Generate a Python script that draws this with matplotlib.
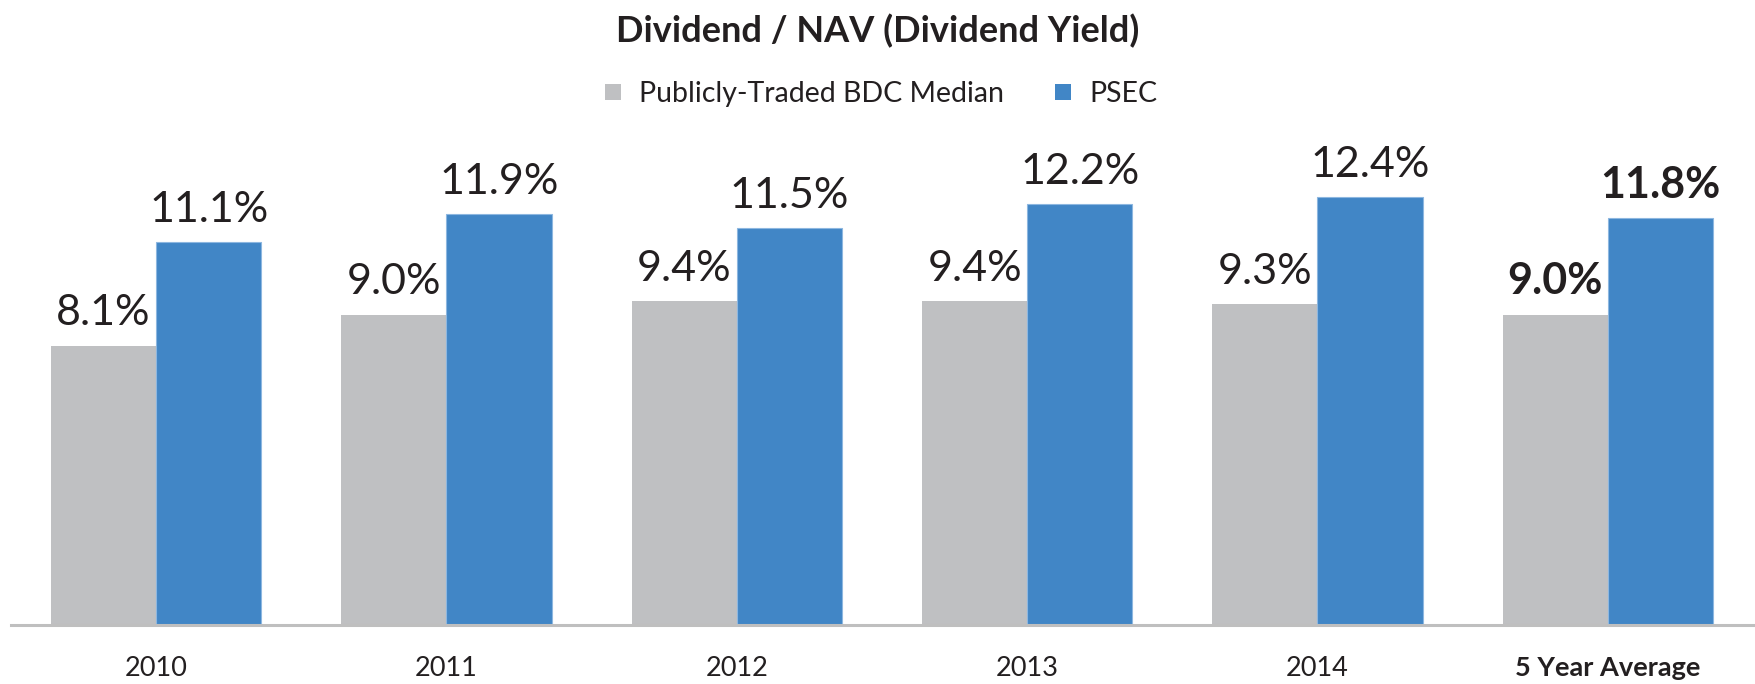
import matplotlib
matplotlib.use("Agg")
import matplotlib.pyplot as plt
from matplotlib.lines import Line2D

categories = ["2010", "2011", "2012", "2013", "2014", "5 Year Average"]
bdc_median = [8.1, 9.0, 9.4, 9.4, 9.3, 9.0]
psec = [11.1, 11.9, 11.5, 12.2, 12.4, 11.8]
series_names = ["Publicly-Traded BDC Median", "PSEC"]
title = "Dividend / NAV (Dividend Yield)"

gray = "#BFC0C2"
blue = "#4186C6"
txt = "#231F20"

plt.rcParams['font.family'] = ['Lato', 'DejaVu Sans']

fig = plt.figure(figsize=(17.56, 6.84), dpi=100)
ax = fig.add_axes([11/1756, 1 - 625/684, (1753 - 11)/1756, (625 - 142)/684])

w = 0.362
xs = list(range(len(categories)))
ax.bar([x - w/2 for x in xs], bdc_median, width=w, color=gray, linewidth=0)
ax.bar([x + w/2 for x in xs], psec, width=w, color=blue, edgecolor="#8DB7E0", linewidth=0.8)

ax.set_xlim(-0.5, len(categories) - 0.5)
ax.set_ylim(0, 14)
for s in ["top", "right", "left"]:
    ax.spines[s].set_visible(False)
ax.spines["bottom"].set_color("#BFBFBF")
ax.spines["bottom"].set_linewidth(2.2)
ax.set_yticks([])
ax.set_xticks(xs)
ax.set_xticklabels(categories, fontsize=19.5, color=txt)
ax.tick_params(axis='x', length=0, pad=22)
ax.get_xticklabels()[-1].set_fontweight('bold')

for i, (g, b) in enumerate(zip(bdc_median, psec)):
    bold = 'bold' if i == len(categories) - 1 else 'normal'
    ax.annotate(f"{g:.1f}%", (i - w/2, g), xytext=(0, 14.5), textcoords='offset points',
                ha='center', va='baseline', fontsize=31, color=txt, fontweight=bold)
    ax.annotate(f"{b:.1f}%", (i + w/2, b), xytext=(0, 14.5), textcoords='offset points',
                ha='center', va='baseline', fontsize=31, color=txt, fontweight=bold)

fig.text(0.5, 1 - 31/684, title, ha='center', va='center', fontsize=26,
         fontweight='bold', color=txt)

handles = [Line2D([0], [0], marker='s', linestyle='none', markersize=12,
                  markerfacecolor=c, markeredgewidth=0) for c in (gray, blue)]
leg = fig.legend(handles, series_names, loc='center', bbox_to_anchor=(0.5, 1 - 94/684),
                 ncol=2, frameon=False, fontsize=20.5, handletextpad=0.4,
                 columnspacing=1.6, handlelength=1.0, labelcolor=txt)

fig.savefig("out.png", dpi=100)
